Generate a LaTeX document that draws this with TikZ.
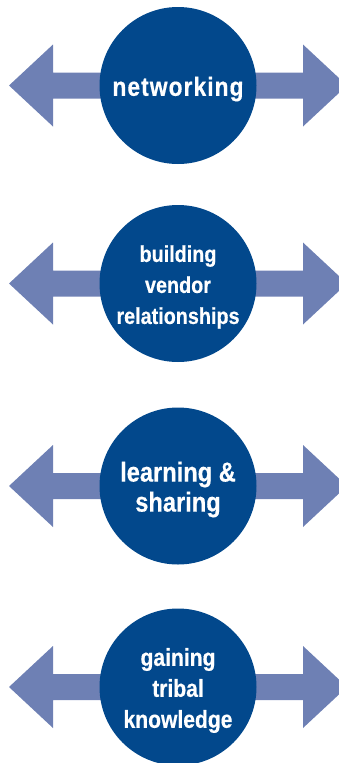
\documentclass[tikz,border=0pt]{standalone}
\usepackage{fontspec}
\setmainfont{Liberation Sans}[FakeStretch=0.86,BoldFeatures={FakeBold=0.4}]
\newfontfamily\spacedfont{Liberation Sans}[FakeStretch=0.86,LetterSpace=4,BoldFeatures={FakeBold=0.4}]
\usetikzlibrary{positioning}
\definecolor{circblue}{HTML}{02488C}
\definecolor{arrowblue}{HTML}{6E80B4}

\begin{document}
\begin{tikzpicture}[x=1pt,y=-1pt]
    \tikzstyle{every node}+=[inner sep=0pt]
    \tikzstyle{topic}=[circle, fill=circblue, minimum size=157pt]
    \tikzstyle{topictext}=[text=white, align=center, yshift=-3.5pt, font=\bfseries\fontsize{23}{31}\selectfont]
    \useasboundingbox (0,0) rectangle (339,763);
    % double arrows behind the circles
    \foreach \y in {85.5,283.5,486,687} {
        \fill [arrowblue] (9,\y) -- (53,\y-41) -- (53,\y-13) -- (303,\y-13) -- (303,\y-41) -- (347,\y) -- (303,\y+41) -- (303,\y+13) -- (53,\y+13) -- (53,\y+41) -- cycle;
    }
    \node [topic, label={[topictext, font=\spacedfont\bfseries\fontsize{26.5}{31}\selectfont]center:networking}] (networking) at (178,85.5) {};
    \node [topic, label={[topictext]center:{building\\vendor\\relationships}}] (vendor) at (178,283.5) {};
    \node [topic, label={[topictext, font=\bfseries\fontsize{27.5}{30}\selectfont]center:{learning \&\\sharing}}] (sharing) at (178,486) {};
    \node [topic, label={[topictext, font=\bfseries\fontsize{24.5}{31}\selectfont]center:{gaining\\tribal\\knowledge}}] (tribal) at (178,687) {};
\end{tikzpicture}
\end{document}
